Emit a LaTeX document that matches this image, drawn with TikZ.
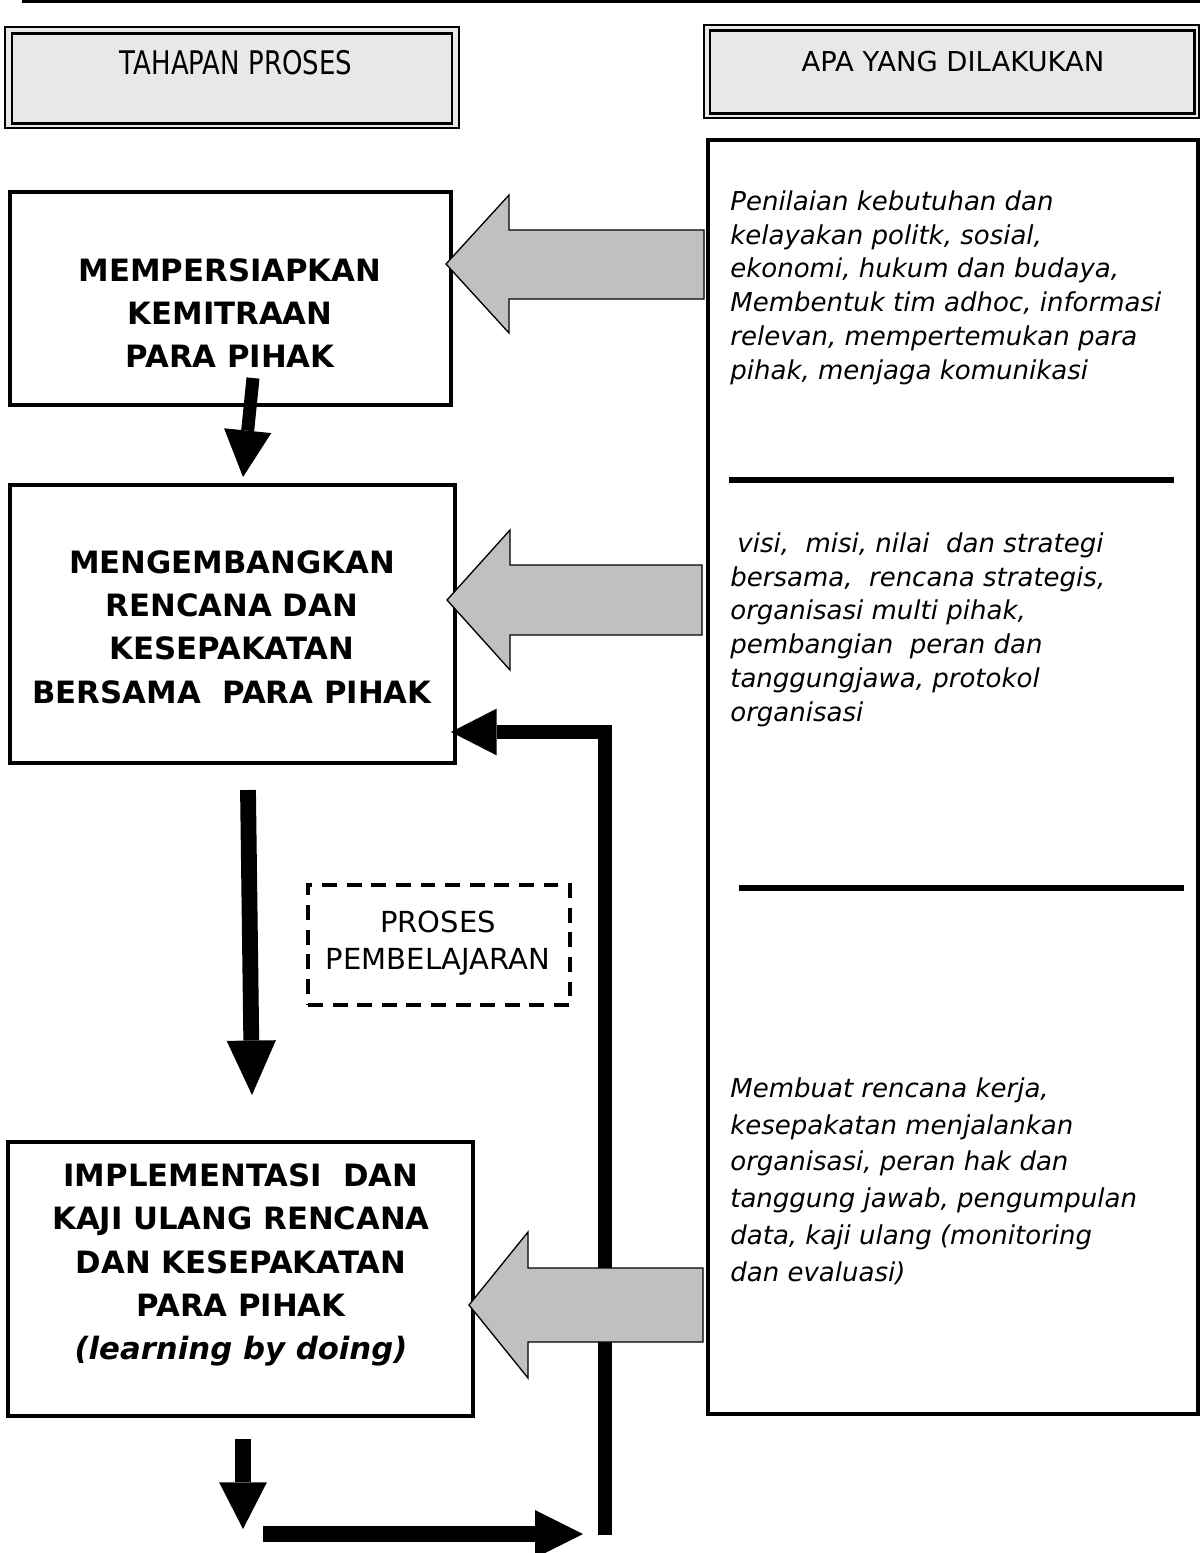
\documentclass[tikz,border=0pt]{standalone}
\usepackage{fontspec}
\setmainfont{DejaVu Sans}
\newfontfamily\hdleftfont{DejaVu Sans}[FakeStretch=0.8]
\usetikzlibrary{arrows.meta,fit}
\definecolor{arrowgray}{RGB}{192,192,192}
\definecolor{hdfill}{RGB}{232,232,232}
\begin{document}
\begin{tikzpicture}[x=0.02cm,y=-0.02cm,
  procbox/.style={draw, line width=1.9pt, inner sep=0pt},
  boxtxt/.style={align=center, inner sep=0pt, font=\fontsize{17.5pt}{24.7pt}\selectfont\bfseries},
  sidetxt/.style={align=left, inner sep=0pt, anchor=north west, font=\fontsize{14.8pt}{19.3pt}\selectfont\itshape},
  grayarrow/.style={fill=arrowgray, draw=black, line width=0.75pt, line join=miter},
  fatline/.style={line width=#1, line join=miter, line cap=butt},
  divider/.style={line width=3.4pt}
]
\useasboundingbox (0,0) rectangle (1200,1553);

% top rule
\coordinate (rulel) at (22,1.5);
\coordinate (ruler) at (1200,1.5);
\draw[line width=1.7pt] (rulel) -- (ruler);

% header boxes
\node[fit={(5,27) (459,128)}, inner sep=0pt, fill=hdfill, draw, line width=1.1pt] (h1o) {};
\node[fit={(12,33) (452,123)}, inner sep=0pt, draw, line width=1.7pt] (h1) {};
\node[font=\hdleftfont\fontsize{18.5pt}{22pt}\selectfont, inner sep=0pt] (h1t) at (236,63) {TAHAPAN PROSES};

\node[fit={(704,25) (1199,118)}, inner sep=0pt, fill=hdfill, draw, line width=1.1pt] (h2o) {};
\node[fit={(710,30) (1194,113)}, inner sep=0pt, draw, line width=1.7pt] (h2) {};
\node[font=\fontsize{15.6pt}{18pt}\selectfont, inner sep=0pt] (h2t) at (953,62) {APA YANG DILAKUKAN};

% right big box
\node[fit={(708,140) (1198,1414)}, inner sep=0pt, draw, line width=2.2pt] (rbox) {};
\coordinate (d1l) at (729,480);
\coordinate (d1r) at (1174,480);
\draw[divider] (d1l) -- (d1r);
\coordinate (d2l) at (739,888);
\coordinate (d2r) at (1184,888);
\draw[divider] (d2l) -- (d2r);

\node[sidetxt] (r1) at (730,190) {Penilaian kebutuhan dan\\
kelayakan politk, sosial,\\
ekonomi, hukum dan budaya,\\
Membentuk tim adhoc, informasi\\
relevan, mempertemukan para\\
pihak, menjaga komunikasi};

\node[sidetxt] (r2) at (730,532) {\hspace*{4pt}visi,~ misi, nilai~ dan strategi\\
bersama,~ rencana strategis,\\
organisasi multi pihak,\\
pembangian~ peran dan\\
tanggungjawa, protokol\\
organisasi};

\node[sidetxt, font=\fontsize{14.8pt}{21pt}\selectfont\itshape] (r3) at (730,1077) {Membuat rencana kerja,\\
kesepakatan menjalankan\\
organisasi, peran hak dan\\
tanggung jawab, pengumpulan\\
data, kaji ulang (monitoring\\
dan evaluasi)};

% left process boxes
\node[procbox, fit={(10,192) (451,405)}] (b1) {};
\node[boxtxt] (b1t) at (230,313) {MEMPERSIAPKAN\\KEMITRAAN\\PARA PIHAK};

\node[procbox, fit={(10,485) (455,763)}] (b2) {};
\node[boxtxt] (b2t) at (232,627) {MENGEMBANGKAN\\RENCANA DAN\\KESEPAKATAN\\BERSAMA~ PARA PIHAK};

\node[procbox, fit={(8,1142) (473,1416)}] (b3) {};
\node[boxtxt] (b3t) at (241,1265) {IMPLEMENTASI~ DAN\\KAJI ULANG RENCANA\\DAN KESEPAKATAN\\PARA PIHAK\\\textit{(learning by doing)}};

% dashed learning box
\node[fit={(308,885) (570,1005)}, inner sep=0pt, draw, line width=1.8pt, dash pattern=on 8.5pt off 5.5pt] (pb) {};
\node[align=center, inner sep=0pt, font=\fontsize{16.5pt}{21pt}\selectfont] (pbt) at (438,943) {PROSES\\PEMBELAJARAN};

% black arrows
\coordinate (a1s) at (253,378);
\coordinate (a1e) at (243,477);
\draw[fatline=7.4pt, -{Triangle[length=26.5pt,width=27pt,line width=0pt]}] (a1s) -- (a1e);

\coordinate (a2s) at (248,790);
\coordinate (a2e) at (252,1095);
\draw[fatline=9pt, -{Triangle[length=31pt,width=28pt,line width=0pt]}] (a2s) -- (a2e);

\coordinate (a3s) at (243,1439);
\coordinate (a3e) at (243,1529);
\draw[fatline=9pt, -{Triangle[length=26.6pt,width=27.2pt,line width=0pt]}] (a3s) -- (a3e);

\coordinate (a4s) at (263,1534);
\coordinate (a4e) at (583,1534);
\draw[fatline=9pt, -{Triangle[length=27.2pt,width=27.2pt,line width=0pt]}] (a4s) -- (a4e);

% feedback loop
\coordinate (fbs) at (605,1535);
\coordinate (fbc) at (605,732);
\coordinate (fbe) at (451,732);
\draw[fatline=8.5pt, -{Triangle[length=26pt,width=26.6pt,line width=0pt]}] (fbs) -- (fbc) -- (fbe);

% gray block arrows
\filldraw[grayarrow] (704,230) -- (509,230) -- (509,195) -- (446,264) -- (509,333) -- (509,299) -- (704,299) -- cycle;
\filldraw[grayarrow] (702,565) -- (510,565) -- (510,530) -- (447,600) -- (510,670) -- (510,635) -- (702,635) -- cycle;
\filldraw[grayarrow] (703,1268) -- (528,1268) -- (528,1232) -- (469,1305) -- (528,1378) -- (528,1342) -- (703,1342) -- cycle;
\end{tikzpicture}
\end{document}
